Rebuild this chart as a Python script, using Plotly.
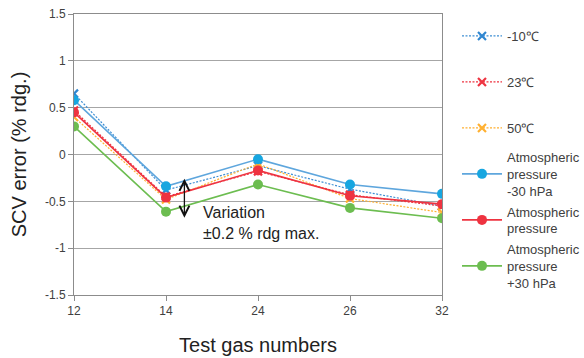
import plotly.graph_objects as go

categories = ["12", "14", "24", "26", "32"]
yticks = [-1.5, -1, -0.5, 0, 0.5, 1, 1.5]
ytick_labels = ["-1.5", "-1", "-0.5", "0", "0.5", "1", "1.5"]

names = ["-10℃", "23℃", "50℃",
         "Atmospheric<br>pressure<br>-30 hPa",
         "Atmospheric<br>pressure",
         "Atmospheric<br>pressure<br>+30 hPa"]
t_m10 = [0.65, -0.38, -0.12, -0.37, -0.55]
t_23 = [0.47, -0.45, -0.18, -0.43, -0.55]
t_50 = [0.40, -0.48, -0.10, -0.47, -0.62]
p_m30 = [0.58, -0.34, -0.05, -0.32, -0.42]
p_0 = [0.45, -0.46, -0.17, -0.44, -0.53]
p_p30 = [0.30, -0.61, -0.32, -0.57, -0.68]
series = [t_m10, t_23, t_50, p_m30, p_0, p_p30]

line_colors = ["#3f8fd4", "#ee3340", "#ffb030", "#5ea6dd", "#ee3340", "#6cbd50"]
marker_colors = ["#2f86d0", "#ee3340", "#ffb030", "#17a6e0", "#ee3340", "#6cbd50"]
dashes = ["2px,1.5px", "2px,1.5px", "2px,1.5px", "solid", "solid", "solid"]
symbols = ["x-thin", "x-thin", "x-thin", "circle", "circle", "circle"]
legend_y_px = [36, 82, 128, 174, 220, 266]

W, H = 584, 358
ML, MR, MT, MB = 74, 142, 14, 63
plot_h = H - MT - MB
plot_w = W - ML - MR

fig = go.Figure()
legend_ids = ["legend", "legend2", "legend3", "legend4", "legend5", "legend6"]
for i in range(6):
    is_temp = i < 3
    fig.add_trace(go.Scatter(
        x=categories, y=series[i], name=names[i], mode="lines+markers",
        line=dict(color=line_colors[i], width=1.2 if is_temp else 1.6, dash=dashes[i]),
        marker=dict(symbol=symbols[i], size=8 if is_temp else 10,
                    color=marker_colors[i],
                    line=dict(color=marker_colors[i], width=2.2 if is_temp else 0)),
        legend=legend_ids[i],
    ))

layout_legends = {}
for i, lid in enumerate(legend_ids):
    layout_legends[lid] = dict(
        x=(457 - ML) / plot_w, xanchor="left",
        y=(H - MB - legend_y_px[i]) / plot_h, yanchor="middle",
        itemwidth=40, valign="middle",
        bgcolor="rgba(0,0,0,0)",
        font=dict(family="Liberation Sans, Arial, sans-serif", size=13, color="#404040"),
        tracegroupgap=0,
    )

fig.add_annotation(x=1.2, y=-0.26, ax=1.2, ay=-0.69, xref="x", yref="y",
                   axref="x", ayref="y", text="", showarrow=True,
                   arrowhead=5, startarrowhead=5, arrowside="end+start",
                   arrowwidth=1.3, arrowsize=1.5, startarrowsize=1.5, arrowcolor="#111111")
fig.add_annotation(x=1.38, y=-0.73, xref="x", yref="y", xanchor="left", yanchor="middle",
                   text="Variation<br>±0.2 % rdg max.", showarrow=False, align="left",
                   font=dict(family="Liberation Sans, Arial, sans-serif", size=16, color="#222222"))

fig.update_layout(
    width=W, height=H,
    margin=dict(l=ML, r=MR, t=MT, b=MB, autoexpand=False),
    paper_bgcolor="white", plot_bgcolor="white",
    showlegend=True,
    font=dict(family="Liberation Sans, Arial, sans-serif", color="#404040"),
    **layout_legends,
)
fig.update_xaxes(
    type="category", range=[0, 4], showgrid=False, automargin=False,
    showline=True, linecolor="#8c8c8c", linewidth=1, mirror=True,
    ticks="outside", ticklen=5, tickcolor="#8c8c8c",
    tickfont=dict(size=12, color="#404040"),
    title=dict(text="Test gas numbers", font=dict(size=20, color="#222222"), standoff=20),
)
fig.update_yaxes(
    range=[-1.5, 1.5], tickvals=yticks, ticktext=ytick_labels, automargin=False,
    showgrid=True, gridcolor="#a6a6a6", gridwidth=1, zeroline=False,
    showline=True, linecolor="#8c8c8c", linewidth=1, mirror=True,
    ticks="outside", ticklen=5, tickcolor="#8c8c8c",
    tickfont=dict(size=12, color="#404040"),
    title=dict(text="SCV error (% rdg.)", font=dict(size=20, color="#222222"), standoff=12),
)

fig.write_html("out.html")
